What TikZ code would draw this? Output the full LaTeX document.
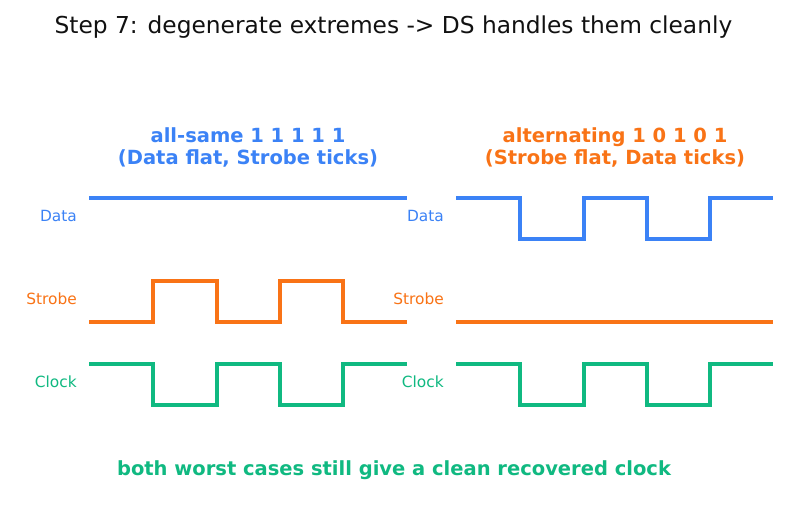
\documentclass[tikz,border=0pt]{standalone}
\usepackage{fontspec}
\setmainfont{DejaVu Sans}
\definecolor{cblue}{HTML}{3B82F6}
\definecolor{corange}{HTML}{F97316}
\definecolor{cgreen}{HTML}{10B981}
\definecolor{ctext}{HTML}{111111}
\begin{document}
\begin{tikzpicture}[x=1pt,y=-1pt,
  wave/.style={line width=3.4pt},
  lbl/.style={anchor=base east,inner sep=0pt,font=\fontsize{15.4}{18}\selectfont},
  head/.style={anchor=base,inner sep=0pt,font=\fontsize{19.5}{23}\selectfont\bfseries},
]
\useasboundingbox[fill=white] (0,0) rectangle (787,510);
\node[anchor=base,inner sep=0pt,text=ctext,font=\fontsize{23.3}{27}\selectfont] (title) at (393.5,33.5) {Step 7: degenerate extremes -> DS handles them cleanly};
% left panel
\node[head,text=cblue] (lh1) at (248,143) {all-same 1 1 1 1 1};
\node[head,text=cblue] (lh2) at (248,165) {(Data flat, Strobe ticks)};
\node[lbl,text=cblue] (ld) at (77,222) {Data};
\node[lbl,text=corange] (ls) at (77,305) {Strobe};
\node[lbl,text=cgreen] (lc) at (77,388) {Clock};
\draw[wave,cblue] (89,198) -- (407,198);
\draw[wave,corange] (89,322) -- (153,322) -- (153,281) -- (217,281) -- (217,322) -- (280,322) -- (280,281) -- (343,281) -- (343,322) -- (407,322);
\draw[wave,cgreen] (89,364) -- (153,364) -- (153,405) -- (217,405) -- (217,364) -- (280,364) -- (280,405) -- (343,405) -- (343,364) -- (407,364);
% right panel
\node[head,text=corange] (rh1) at (615,143) {alternating 1 0 1 0 1};
\node[head,text=corange] (rh2) at (615,165) {(Strobe flat, Data ticks)};
\node[lbl,text=cblue] (rd) at (444,222) {Data};
\node[lbl,text=corange] (rs) at (444,305) {Strobe};
\node[lbl,text=cgreen] (rc) at (444,388) {Clock};
\draw[wave,cblue] (456,198) -- (520,198) -- (520,239) -- (584,239) -- (584,198) -- (647,198) -- (647,239) -- (710,239) -- (710,198) -- (773,198);
\draw[wave,corange] (456,322) -- (773,322);
\draw[wave,cgreen] (456,364) -- (520,364) -- (520,405) -- (584,405) -- (584,364) -- (647,364) -- (647,405) -- (710,405) -- (710,364) -- (773,364);
\node[head,text=cgreen] (foot) at (394,475) {both worst cases still give a clean recovered clock};
\end{tikzpicture}
\end{document}
